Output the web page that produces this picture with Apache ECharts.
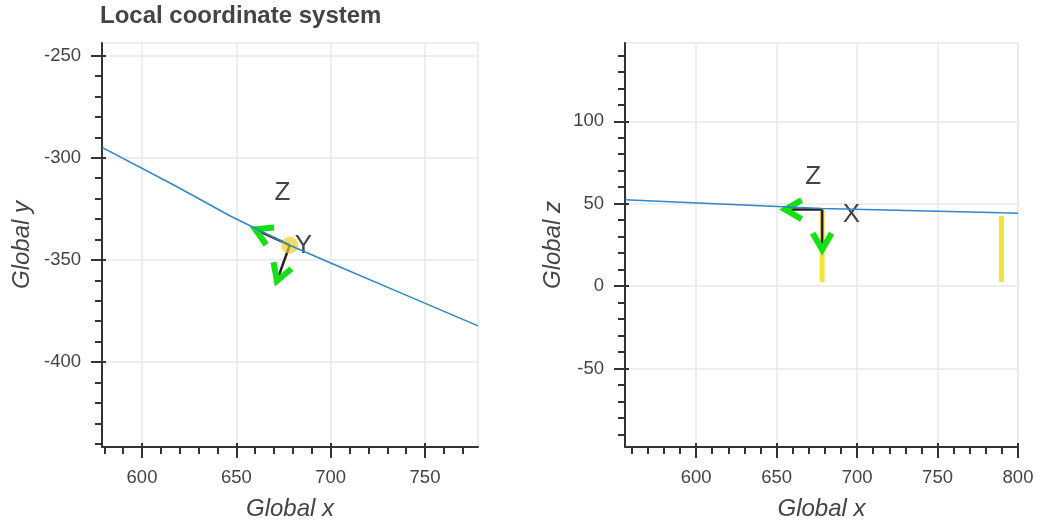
<!DOCTYPE html>
<html><head><meta charset="utf-8">
<script src="https://cdn.jsdelivr.net/npm/echarts@6/dist/echarts.min.js"></script>
<style>html,body{margin:0;padding:0;background:#fff}#c{width:1041px;height:526px}</style>
</head><body><div id="c"></div>
<script>
// ---------- data ----------
const titleText = 'Local coordinate system';
// left panel (plan view, Global x vs Global y)
const xyXRange = [578.8, 778.1];
const xyYRange = [-441.6, -243.8];
const xyXMajor = [600, 650, 700, 750];
const xyYMajor = [-400, -350, -300, -250];
const xyWireX = [578.8, 617.6, 646.8, 678.3, 699.7, 736.8, 778.1];
const xyWireY = [-294.9, -313.7, -328.5, -342.8, -351.4, -366.0, -382.3];
const xyPoleX = [678.3];
const xyPoleY = [-342.8];
const xyArrowOriginX = [678.3, 678.3];
const xyArrowOriginY = [-342.8, -342.8];
const xyArrowTipX = [660.0, 671.5];
const xyArrowTipY = [-335.0, -360.3];
const xyLabelText = ['Z', 'Y'];
const xyLabelX = [674.5, 685.6];
const xyLabelY = [-317.4, -343.0];
// right panel (elevation, Global x vs Global z)
const xzXRange = [555.8, 800];
const xzZRange = [-97.7, 147.5];
const xzXMajor = [600, 650, 700, 750, 800];
const xzZMajor = [-50, 0, 50, 100];
const xzWireX = [555.8, 678.3, 789.7, 800];
const xzWireZ = [52.4, 47.0, 44.4, 44.2];
const xzPoleX = [678.3, 789.7];
const xzPoleBottom = [2.5, 2.5];
const xzPoleTop = [46.4, 42.6];
const xzArrowOriginX = [678.3, 678.3];
const xzArrowOriginZ = [46.4, 46.4];
const xzArrowTipX = [655.3, 678.3];
const xzArrowTipZ = [46.4, 22.1];
const xzLabelText = ['Z', 'X'];
const xzLabelX = [672.7, 696.5];
const xzLabelZ = [66.2, 43.0];
const minorStep = 10;

// ---------- helpers ----------
const FONT = 'Liberation Sans, Arial, sans-serif';
const AXIS_COLOR = '#333';
function minorsOf(range, majors) {
  const out = [];
  const start = Math.ceil(range[0] / minorStep) * minorStep;
  for (let v = start; v <= range[1] + 1e-9; v += minorStep) {
    if (!majors.some(m => Math.abs(m - v) < 1e-6)) out.push(v);
  }
  return out;
}
function axesFor(gridIndex, dim, range, majors, name, nameGap) {
  const pos = dim === 'x' ? 'bottom' : 'left';
  const base = { type: 'value', gridIndex, min: range[0], max: range[1], position: pos, offset: 0, scale: true };
  const primary = Object.assign({}, base, {
    name, nameLocation: 'middle', nameGap,
    nameTextStyle: { fontFamily: FONT, fontSize: 24, fontStyle: 'italic', color: '#444' },
    axisLine: { show: true, onZero: false, lineStyle: { color: AXIS_COLOR, width: 2 } },
    axisTick: { show: true, customValues: majors, length: 11, lineStyle: { color: AXIS_COLOR, width: 2 } },
    axisLabel: { show: true, customValues: majors, fontFamily: FONT, fontSize: 18.5, color: '#444', margin: 21 },
    splitLine: { show: true, lineStyle: { color: '#e9e9e9', width: 1.5 } },
    minorTick: { show: false }
  });
  const minor = Object.assign({}, base, {
    axisLine: { show: false, onZero: false },
    axisTick: { show: true, customValues: minorsOf(range, majors), length: 7, lineStyle: { color: AXIS_COLOR, width: 2 } },
    axisLabel: { show: false },
    splitLine: { show: false }
  });
  const inner = Object.assign({}, base, {
    axisLine: { show: false, onZero: false },
    axisTick: { show: true, inside: true, customValues: majors, length: 4, lineStyle: { color: AXIS_COLOR, width: 2 } },
    axisLabel: { show: false },
    splitLine: { show: false }
  });
  return [primary, minor, inner];
}
function zip(a, b) { return a.map((v, i) => [v, b[i]]); }
function arrowItem(params, api) {
  const p0 = api.coord([api.value(0), api.value(1)]);
  const p1 = api.coord([api.value(2), api.value(3)]);
  const dx = p0[0] - p1[0], dy = p0[1] - p1[1];
  const L = Math.hypot(dx, dy) || 1;
  const ux = dx / L, uy = dy / L;
  const s = 19, a = Math.PI / 6;
  const rot = ang => [p1[0] + s * (ux * Math.cos(ang) - uy * Math.sin(ang)),
                      p1[1] + s * (ux * Math.sin(ang) + uy * Math.cos(ang))];
  return { type: 'group', children: [
    { type: 'line', shape: { x1: p0[0], y1: p0[1], x2: p1[0], y2: p1[1] }, style: { stroke: '#222', lineWidth: 2.5 } },
    { type: 'polyline', shape: { points: [rot(a), p1, rot(-a)] }, style: { stroke: '#14e014', lineWidth: 6, fill: null, lineJoin: 'miter' } }
  ]};
}
function makeTextItem(texts) {
  return function (params, api) {
    const p = api.coord([api.value(0), api.value(1)]);
    return { type: 'text', x: p[0], y: p[1], style: {
      text: texts[params.dataIndex], fontFamily: FONT, fontSize: 26, fill: '#444', align: 'center', verticalAlign: 'middle' } };
  };
}
function poleItem(params, api) {
  const p0 = api.coord([api.value(0), api.value(1)]);
  const p1 = api.coord([api.value(0), api.value(2)]);
  return { type: 'line', shape: { x1: p0[0], y1: p0[1], x2: p1[0], y2: p1[1] }, style: { stroke: '#f2e23c', lineWidth: 5 } };
}

const xAxes = [].concat(
  axesFor(0, 'x', xyXRange, xyXMajor, 'Global x', 50),
  axesFor(1, 'x', xzXRange, xzXMajor, 'Global x', 50)
);
const yAxes = [].concat(
  axesFor(0, 'y', xyYRange, xyYMajor, 'Global y', 68),
  axesFor(1, 'y', xzZRange, xzZMajor, 'Global z', 60)
);

const option = {
  animation: false,
  title: { text: titleText, left: 100, top: 4, padding: 0,
           textStyle: { fontFamily: FONT, fontSize: 24, fontWeight: 'bold', color: '#444' } },
  grid: [
    { left: 102, top: 43, width: 376, height: 405, show: true, borderColor: '#e9e9e9', borderWidth: 1.5, containLabel: false },
    { left: 625, top: 43, width: 393, height: 405, show: true, borderColor: '#e9e9e9', borderWidth: 1.5, containLabel: false }
  ],
  xAxis: xAxes,
  yAxis: yAxes,
  series: [
    { type: 'line', xAxisIndex: 0, yAxisIndex: 0, data: zip(xyWireX, xyWireY), showSymbol: false, silent: true,
      lineStyle: { color: '#2f86c8', width: 1.5 }, clip: true },
    { type: 'scatter', xAxisIndex: 0, yAxisIndex: 0, data: zip(xyPoleX, xyPoleY), symbolSize: 17, silent: true,
      itemStyle: { color: 'rgba(242,205,30,0.85)' } },
    { type: 'custom', xAxisIndex: 0, yAxisIndex: 0, renderItem: arrowItem, silent: true,
      encode: { x: [0, 2], y: [1, 3] },
      data: xyArrowOriginX.map((v, i) => [v, xyArrowOriginY[i], xyArrowTipX[i], xyArrowTipY[i]]) },
    { type: 'custom', xAxisIndex: 0, yAxisIndex: 0, renderItem: makeTextItem(xyLabelText), silent: true,
      encode: { x: 0, y: 1 },
      data: zip(xyLabelX, xyLabelY) },

    { type: 'line', xAxisIndex: 3, yAxisIndex: 3, data: zip(xzWireX, xzWireZ), showSymbol: false, silent: true,
      lineStyle: { color: '#2f86c8', width: 1.5 }, clip: true },
    { type: 'custom', xAxisIndex: 3, yAxisIndex: 3, renderItem: poleItem, silent: true,
      encode: { x: 0, y: [1, 2] },
      data: xzPoleX.map((v, i) => [v, xzPoleBottom[i], xzPoleTop[i]]) },
    { type: 'custom', xAxisIndex: 3, yAxisIndex: 3, renderItem: arrowItem, silent: true,
      encode: { x: [0, 2], y: [1, 3] },
      data: xzArrowOriginX.map((v, i) => [v, xzArrowOriginZ[i], xzArrowTipX[i], xzArrowTipZ[i]]) },
    { type: 'custom', xAxisIndex: 3, yAxisIndex: 3, renderItem: makeTextItem(xzLabelText), silent: true,
      encode: { x: 0, y: 1 },
      data: zip(xzLabelX, xzLabelZ) }
  ]
};
const chart = echarts.init(document.getElementById('c'), null, { renderer: 'canvas' });
chart.setOption(option);
</script>
</body></html>
